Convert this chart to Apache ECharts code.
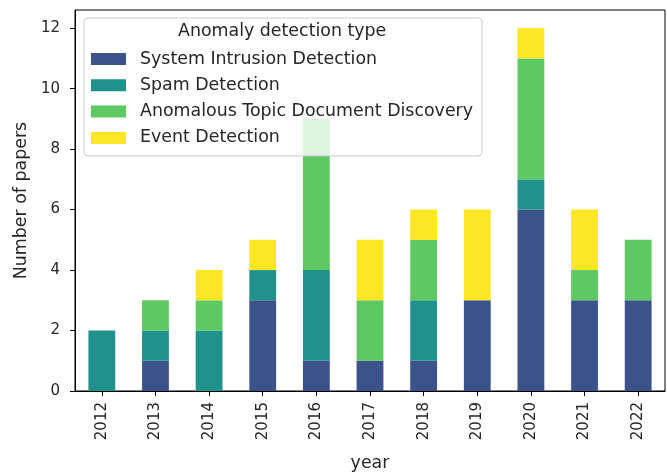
<!DOCTYPE html>
<html>
<head>
<meta charset="utf-8">
<script src="https://cdn.jsdelivr.net/npm/echarts@6/dist/echarts.min.js"></script>
<style>html,body{margin:0;padding:0;background:#fff}#c{width:667px;height:473px}</style>
</head>
<body>
<div id="c"></div>
<script>
const years = ['2012','2013','2014','2015','2016','2017','2018','2019','2020','2021','2022'];
const systemIntrusion = [0,1,0,3,1,1,1,3,6,3,3];
const spamDetection   = [2,1,2,1,3,0,2,0,1,0,0];
const anomalousTopic  = [0,1,1,0,5,2,2,0,4,1,2];
const eventDetection  = [0,0,1,1,0,2,1,3,1,2,0];
const seriesNames = ['System Intrusion Detection','Spam Detection','Anomalous Topic Document Discovery','Event Detection'];
const colors = ['#3b528b','#21918c','#5ec962','#fde725'];
const yTicks = [0,2,4,6,8,10,12];
const legendTitle = 'Anomaly detection type';

const font = 'DejaVu Sans';
const chart = echarts.init(document.getElementById('c'));
const vals = [systemIntrusion, spamDetection, anomalousTopic, eventDetection];
chart.setOption({
  animation: false,
  color: colors,
  grid: {left: 75, right: 2, top: 10, bottom: 82, show: true, borderColor: '#000', borderWidth: 1, backgroundColor: 'transparent', outerBoundsMode: 'none', containLabel: false},
  legend: {
    orient: 'vertical', left: 84, top: 18,
    padding: [31, 9, 8, 7],
    itemWidth: 35, itemHeight: 12, itemGap: 6.3,
    icon: 'rect',
    backgroundColor: 'rgba(255,255,255,0.8)',
    borderColor: '#cccccc', borderWidth: 1, borderRadius: 4,
    textStyle: {fontFamily: font, fontSize: 17.4, color: '#262626', lineHeight: 20, padding: [0,0,0,9]},
    data: seriesNames
  },
  graphic: [{
    type: 'text', left: 178, top: 23, z: 100,
    style: {text: legendTitle, font: '17.4px "DejaVu Sans"', fill: '#262626'}
  }],
  xAxis: {
    type: 'category', data: years,
    name: 'year', nameLocation: 'middle', nameGap: 64,
    nameTextStyle: {fontFamily: font, fontSize: 17.4, color: '#262626'},
    axisLine: {show: true, lineStyle: {color: '#000', width: 1}},
    axisTick: {show: true, alignWithLabel: true, length: 5, lineStyle: {color: '#000'}},
    axisLabel: {rotate: 90, margin: 11, fontFamily: font, fontSize: 15, color: '#262626', interval: 0}
  },
  yAxis: {
    type: 'value', min: 0, max: 12.6, interval: 2,
    name: 'Number of papers', nameLocation: 'middle', nameGap: 45, nameRotate: 90,
    nameTextStyle: {fontFamily: font, fontSize: 17.4, color: '#262626'},
    axisLine: {show: true, lineStyle: {color: '#000', width: 1}},
    axisTick: {show: true, length: 5, lineStyle: {color: '#000'}, customValues: yTicks},
    axisLabel: {margin: 15, fontFamily: font, fontSize: 15, color: '#262626', customValues: yTicks},
    splitLine: {show: false}
  },
  series: seriesNames.map((n, i) => ({
    name: n, type: 'bar', stack: 'total', barWidth: '50%',
    data: vals[i], itemStyle: {color: colors[i]}
  }))
});
</script>
</body>
</html>
